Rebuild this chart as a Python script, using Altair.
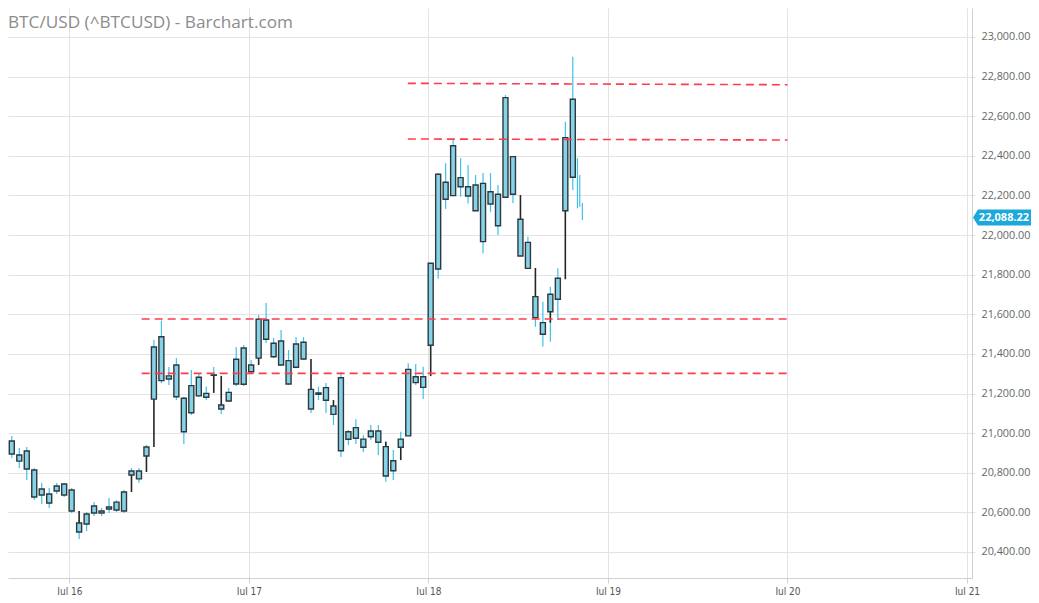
import altair as alt
import pandas as pd

# ---------------- data (hourly candles, hours counted from Jul 16 00:00) ----------------
candle_index = list(range(-9, 68))
open_ = [21066, 20895, 20890, 20910, 20814, 20688, 20693, 20708, 20743,
         20713, 20501, 20541, 20597, 20607, 20617, 20612, 20607, 20789, 20769, 20885,
         21172, 21487, 21273, 21344, 21176, 21103, 21282, 21181, 21294, 21142,
         21162, 21248, 21430, 21310, 21379, 21571, 21454, 21344, 21366, 21333,
         21459, 21221, 21196, 21230, 21137, 21280, 20969, 21028, 20970, 20982,
         21011, 20932, 20810, 20929, 20986, 21285, 21231, 21444, 21829, 22267,
         22199, 22290, 22244, 22253, 22261, 22157, 22047, 22191, 22396, 22080,
         21963, 21689, 21499, 21613, 21676, 22123, 22292]
high = [21167, 20986, 20925, 20930, 20824, 20748, 20723, 20748, 20748,
        20723, 20562, 20602, 20652, 20622, 20673, 20662, 20713, 20824, 20824, 20940,
        21470, 21568, 21334, 21379, 21184, 21319, 21304, 21236, 21334, 21152,
        21228, 21435, 21445, 21369, 21597, 21657, 21480, 21521, 21420, 21485,
        21485, 21223, 21235, 21253, 21137, 21309, 21016, 21070, 20990, 21041,
        21041, 20956, 20915, 21007, 21353, 21349, 21335, 21859, 22313, 22362,
        22480, 22388, 22354, 22303, 22313, 22313, 22253, 22707, 22396, 22080,
        21992, 21689, 21664, 21739, 21832, 22572, 22900]
low = [20905, 20875, 20824, 20764, 20663, 20642, 20622, 20693, 20678,
       20597, 20466, 20506, 20582, 20582, 20597, 20602, 20597, 20779, 20749, 20880,
       21167, 21253, 21243, 21167, 20945, 21092, 21182, 21167, 21290, 21097,
       21157, 21238, 21238, 21299, 21379, 21455, 21380, 21339, 21243, 21328,
       21370, 21102, 21167, 21102, 21041, 20880, 20940, 20945, 20905, 20965,
       20890, 20755, 20764, 20929, 20986, 21243, 21172, 21444, 21780, 22132,
       22199, 22194, 22160, 22123, 21908, 22117, 22000, 22191, 22162, 21894,
       21832, 21537, 21437, 21462, 21571, 22123, 22228]
close = [20915, 20960, 20859, 20819, 20678, 20718, 20647, 20733, 20688,
         20607, 20546, 20592, 20632, 20597, 20627, 20652, 20703, 20809, 20809, 20930,
         21435, 21265, 21289, 21184, 21007, 21240, 21188, 21201, 21292, 21122,
         21206, 21373, 21247, 21344, 21575, 21474, 21386, 21465, 21248, 21450,
         21374, 21122, 21203, 21166, 21095, 20911, 21007, 20974, 20929, 21011,
         20954, 20784, 20861, 20970, 21322, 21255, 21285, 21858, 22307, 22181,
         22451, 22244, 22197, 22123, 21967, 22219, 22206, 22694, 22206, 21894,
         21832, 21583, 21558, 21701, 21782, 22492, 22686]

# dark gap lines (previous close -> open)
gap_index = [1, 8, 10, 11, 19, 20, 25, 32, 35, 42, 44, 48, 60, 62, 64, 66]
gap_from = [20607, 20789, 20885, 21172, 21292, 21289, 21379, 21374, 21167,
            20956, 20930, 21445, 22202, 21834, 21613, 22123]
gap_to = [20546, 20703, 20804, 20930, 21203, 21142, 21344, 21223, 21137,
          20932, 20864, 21288, 22080, 21687, 21558, 21777]

# unfinished last ticks
tail_hours = [67.92, 68.23, 68.58]
tail_high = [22388, 22303, 22162]
tail_low = [22135, 22143, 22076]

# drawn horizontal levels
level_start = [45.25, 45.25, 9.66, 9.66]
level_end = [96, 96, 96, 96]
level_price_start = [22766, 22485, 21576, 21302]
level_price_end = [22759, 22480, 21576, 21302]

last_price = 22088.22
day_ticks = [0, 24, 48, 72, 96, 120]
price_ticks = list(range(20400, 23001, 200))
title_text = "BTC/USD (^BTCUSD) - Barchart.com"

BAR_TIME_OFFSET = 0.3

# ---------------- frames ----------------
candles = pd.DataFrame({
    "t": [k + BAR_TIME_OFFSET for k in candle_index],
    "open": open_, "high": high, "low": low, "close": close,
})
gaps = pd.DataFrame({
    "t": [k + BAR_TIME_OFFSET for k in gap_index],
    "from": gap_from, "to": gap_to,
})
tails = pd.DataFrame({"t": tail_hours, "high": tail_high, "low": tail_low})
levels = pd.DataFrame({"t0": level_start, "t1": level_end,
                       "p0": level_price_start, "p1": level_price_end})
tag = pd.DataFrame({"price": [last_price]})
title_df = pd.DataFrame({"label": [title_text]})

W, H = 964, 570
x_scale = alt.Scale(domain=[-7.54, 120], nice=False, zero=False)
y_scale = alt.Scale(domain=[20268.7, 23146.4], nice=False, zero=False)

x_axis = alt.Axis(values=day_ticks, labelExpr="'Jul ' + (16 + datum.value / 24)",
                  grid=True, gridColor="#e3e3e3", domainColor="#d0d0d0",
                  tickColor="#d0d0d0", tickSize=5, labelFontSize=10,
                  labelFont="Liberation Sans Narrow, DejaVu Sans Condensed, Roboto",
                  labelColor="#555555", labelPadding=3, title=None, labelFlush=False)
y_axis = alt.Axis(orient="right", values=price_ticks, format=",.2f", grid=True,
                  gridColor="#e3e3e3", domainColor="#d0d0d0", tickColor="#e3e3e3",
                  tickSize=3, labelFont="Open Sans", labelFontSize=10.8,
                  labelColor="#666666", labelPadding=6, title=None)

def X(field):
    return alt.X(field, type="quantitative", scale=x_scale, axis=x_axis)

def Y(field):
    return alt.Y(field, type="quantitative", scale=y_scale, axis=y_axis)

wicks = alt.Chart(candles).mark_rule(color="#3fc1ea", strokeWidth=1.2, clip=True).encode(
    x=X("t"), y=Y("low"), y2="high")
tail_wicks = alt.Chart(tails).mark_rule(color="#3fc1ea", strokeWidth=1.2, clip=True).encode(
    x=X("t"), y=Y("low"), y2="high")
gap_lines = alt.Chart(gaps).mark_rule(color="#262626", strokeWidth=1.6, clip=True).encode(
    x=X("t"), y=Y("from"), y2="to")
bodies = alt.Chart(candles).mark_bar(size=5, fill="#86d3e8", stroke="#2e393d",
                                     strokeWidth=1.4, clip=True).encode(
    x=X("t"), y=Y("open"), y2="close")
level_lines = alt.Chart(levels).mark_rule(color="#ff3c4c", strokeWidth=1.6,
                                          strokeDash=[8, 5], clip=True).encode(
    x=X("t0"), x2="t1", y=Y("p0"), y2="p1")

tag_box = alt.Chart(tag).mark_point(
    shape="M -1 0 L -0.83 -0.276 L 1 -0.276 L 1 0.276 L -0.83 0.276 Z",
    size=3364, filled=True, fill="#1ba8da", opacity=1, strokeWidth=0).encode(
    x=alt.value(994), y=Y("price"))
tag_text = alt.Chart(tag).mark_text(color="white", fontWeight="bold", fontSize=11,
                                    font="Open Sans", align="center", baseline="middle").encode(
    x=alt.value(996), y=Y("price"), text=alt.Text("price:Q", format=",.2f"))

title = alt.Chart(title_df).mark_text(align="left", baseline="alphabetic", fontSize=17.2,
                                      font="Open Sans", color="#8c8c8c").encode(
    x=alt.value(0), y=alt.value(19.5), text="label:N")

chart = alt.layer(wicks, tail_wicks, gap_lines, bodies, level_lines, tag_box, tag_text, title).properties(
    width=W, height=H,
    autosize=alt.AutoSizeParams(type="none"),
    padding={"left": 0, "top": 0, "right": 59, "bottom": 17},
).configure_view(stroke=None)

chart.save("out.html", embed_options={"renderer": "svg", "actions": False})
